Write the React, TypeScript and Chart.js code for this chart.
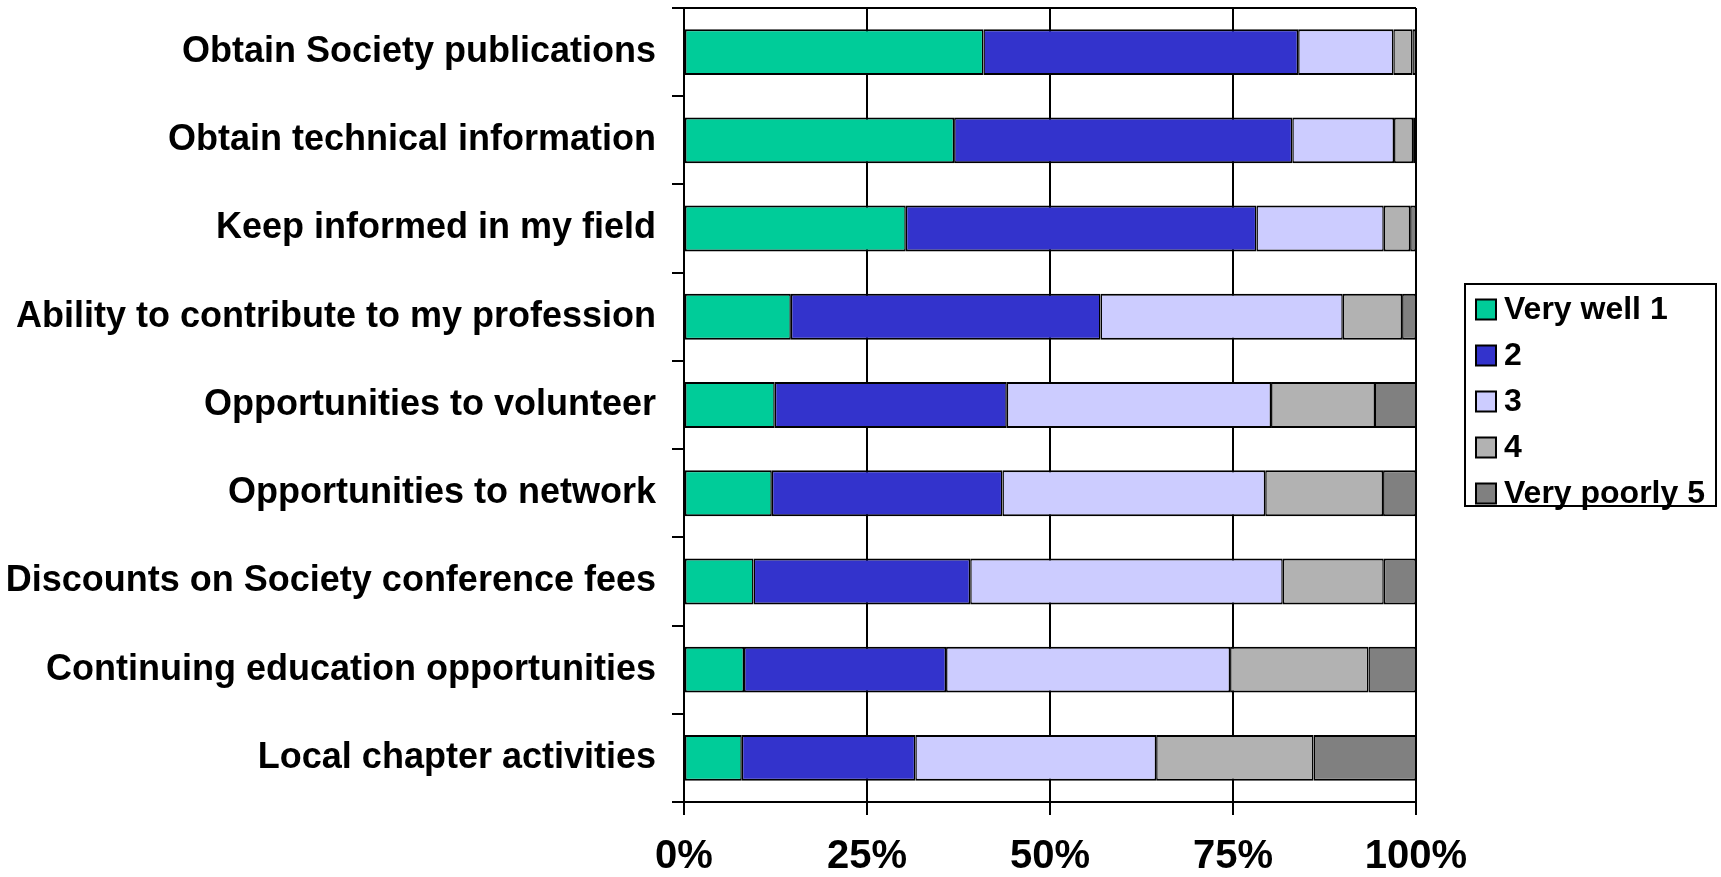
import React, { useEffect, useRef } from "react";
import { Chart, registerables } from "chart.js";

Chart.register(...registerables);

const categories = [
  "Obtain Society publications",
  "Obtain technical information",
  "Keep informed in my field",
  "Ability to contribute to my profession",
  "Opportunities to volunteer",
  "Opportunities to network",
  "Discounts on Society conference fees",
  "Continuing education opportunities",
  "Local chapter activities",
];

const seriesLabels = ["Very well 1", "2", "3", "4", "Very poorly 5"];
const seriesColors = ["#00CC99", "#3333CC", "#CCCCFF", "#B2B2B2", "#808080"];

const veryWell = [40.9, 36.9, 30.3, 14.6, 12.4, 12.0, 9.5, 8.2, 7.9];
const rating2 = [43.0, 46.2, 47.9, 42.3, 31.7, 31.5, 29.6, 27.6, 23.7];
const rating3 = [13.0, 13.9, 17.4, 33.1, 36.1, 35.9, 42.7, 38.8, 32.9];
const rating4 = [2.6, 2.6, 3.6, 8.1, 14.2, 16.1, 13.8, 18.9, 21.5];
const veryPoorly = [0.5, 0.4, 0.8, 1.9, 5.6, 4.5, 4.4, 6.5, 14.0];

const xTicks = [0, 25, 50, 75, 100];

const FONT = "'Liberation Sans', Arial, sans-serif";

const legendBoxPlugin = {
  id: "legendBox",
  afterDraw(chart: any) {
    const ctx = chart.ctx;
    const area = chart.chartArea;
    ctx.save();
    // top border of plot area
    ctx.strokeStyle = "#000";
    ctx.lineWidth = 2;
    ctx.beginPath();
    ctx.moveTo(area.left, area.top);
    ctx.lineTo(area.right, area.top);
    ctx.stroke();

    // legend frame
    const bx = 1465, by = 284, bw = 251, bh = 222;
    ctx.fillStyle = "#fff";
    ctx.fillRect(bx, by, bw, bh);
    ctx.strokeRect(bx, by, bw, bh);
    const rowTop = 309.5;
    const rowStep = 46;
    ctx.font = `bold 32px ${FONT}`;
    ctx.textBaseline = "middle";
    ctx.textAlign = "left";
    chart.data.datasets.forEach((ds: any, i: number) => {
      const cy = rowTop + i * rowStep;
      ctx.fillStyle = ds.backgroundColor;
      ctx.fillRect(1476, cy - 10, 20, 20);
      ctx.lineWidth = 2;
      ctx.strokeStyle = "#000";
      ctx.strokeRect(1476, cy - 10, 20, 20);
      ctx.fillStyle = "#000";
      ctx.fillText(ds.label, 1504, cy + 1);
    });
    ctx.restore();
  },
};

export default function App() {
  const ref = useRef<HTMLCanvasElement | null>(null);

  useEffect(() => {
    if (!ref.current) return;
    const values = [veryWell, rating2, rating3, rating4, veryPoorly];
    const chart = new Chart(ref.current, {
      type: "bar",
      data: {
        labels: categories,
        datasets: values.map((v, i) => ({
          label: seriesLabels[i],
          data: v,
          backgroundColor: seriesColors[i],
          borderColor: "#000",
          borderWidth: { top: 2, bottom: 2, left: 1.5, right: 1.5 },
          borderSkipped: false,
          barPercentage: 0.52,
          categoryPercentage: 1,
        })),
      },
      options: {
        indexAxis: "y",
        responsive: false,
        animation: false,
        layout: { padding: { top: 8, right: 305, bottom: 0, left: 0 } },
        plugins: {
          legend: { display: false },
          tooltip: { enabled: false },
        },
        scales: {
          x: {
            stacked: true,
            min: 0,
            max: 100,
            afterBuildTicks: (scale: any) => {
              scale.ticks = xTicks.map((v) => ({ value: v }));
            },
            afterFit: (scale: any) => {
              scale.height = 75;
              scale.paddingLeft = 0;
              scale.paddingRight = 0;
            },
            ticks: {
              callback: (v: any) => `${v}%`,
              color: "#000",
              font: { family: FONT, size: 40, weight: "bold" },
              padding: 18,
              maxRotation: 0,
              autoSkip: false,
            },
            grid: {
              color: "#000",
              lineWidth: 2,
              tickLength: 13,
              drawTicks: true,
            },
            border: { color: "#000", width: 2 },
          },
          y: {
            stacked: true,
            afterFit: (scale: any) => {
              scale.width = 684;
              scale.paddingTop = 0;
              scale.paddingBottom = 0;
            },
            ticks: {
              color: "#000",
              font: { family: FONT, size: 36, weight: "bold" },
              padding: 16,
              autoSkip: false,
            },
            grid: {
              color: "#000",
              lineWidth: 2,
              drawOnChartArea: false,
              tickLength: 12,
              offset: true,
            },
            border: { color: "#000", width: 2 },
          },
        },
      },
      plugins: [legendBoxPlugin],
    } as any);
    return () => chart.destroy();
  }, []);

  return (
    <div style={{ position: "fixed", left: 0, top: 0, width: 1721, height: 877, background: "#fff" }}>
      <canvas ref={ref} width={1721} height={877} style={{ display: "block" }} />
    </div>
  );
}
